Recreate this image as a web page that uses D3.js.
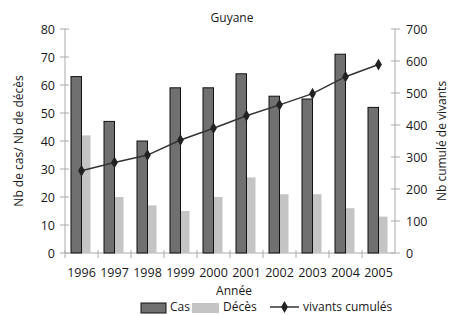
<!DOCTYPE html>
<html>
<head>
<meta charset="utf-8">
<script src="https://cdn.jsdelivr.net/npm/d3@7"></script>
<style>
  body { margin: 0; background: #fff; }
  text { font-family: "Open Sans", sans-serif; fill: #1a1a1a; }
</style>
</head>
<body>
<div id="chart"></div>
<script>
document.addEventListener("DOMContentLoaded", function () {
  const years = ['1996', '1997', '1998', '1999', '2000', '2001', '2002', '2003', '2004', '2005'];
  const cas = [63, 47, 40, 59, 59, 64, 56, 55, 71, 52];
  const deces = [42, 20, 17, 15, 20, 27, 21, 21, 16, 13];
  const vivantsCumules = [257, 283, 306, 353, 390, 429, 463, 498, 551, 589];
  const leftTicks = [0, 10, 20, 30, 40, 50, 60, 70, 80];
  const rightTicks = [0, 100, 200, 300, 400, 500, 600, 700];

  const svg = d3.select('#chart').append('svg')
    .attr('width', 451)
    .attr('height', 315);

  const left = 65, right = 395, top = 29, bottom = 253;
  const axisColor = '#aaa';

  const x = d3.scaleBand().domain(years).range([left, right]);
  const yL = d3.scaleLinear().domain([0, 80]).range([bottom, top]);
  const yR = d3.scaleLinear().domain([0, 700]).range([bottom, top]);
  const barW = 10.5;

  // Title
  svg.append('text')
    .attr('x', 232).attr('y', 22)
    .attr('text-anchor', 'middle')
    .attr('font-size', '12px')
    .text('Guyane');

  // Left axis
  svg.append('line')
    .attr('x1', left).attr('x2', left)
    .attr('y1', top).attr('y2', bottom)
    .attr('stroke', axisColor);
  leftTicks.forEach(t => {
    svg.append('line')
      .attr('x1', left - 5).attr('x2', left + 4)
      .attr('y1', yL(t)).attr('y2', yL(t))
      .attr('stroke', axisColor);
    svg.append('text')
      .attr('x', left - 10).attr('y', yL(t))
      .attr('text-anchor', 'end')
      .attr('dominant-baseline', 'central')
      .attr('font-size', '12.5px')
      .text(t);
  });

  // Right axis
  svg.append('line')
    .attr('x1', right).attr('x2', right)
    .attr('y1', top).attr('y2', bottom)
    .attr('stroke', axisColor);
  rightTicks.forEach(t => {
    svg.append('line')
      .attr('x1', right - 4).attr('x2', right + 5)
      .attr('y1', yR(t)).attr('y2', yR(t))
      .attr('stroke', axisColor);
    svg.append('text')
      .attr('x', right + 11).attr('y', yR(t))
      .attr('dominant-baseline', 'central')
      .attr('font-size', '12.5px')
      .text(t);
  });

  // Bottom axis
  svg.append('line')
    .attr('x1', left).attr('x2', right)
    .attr('y1', bottom).attr('y2', bottom)
    .attr('stroke', axisColor);
  years.forEach((yr, i) => {
    svg.append('line')
      .attr('x1', x(yr)).attr('x2', x(yr))
      .attr('y1', bottom - 3).attr('y2', bottom + 5)
      .attr('stroke', axisColor);
    svg.append('text')
      .attr('x', x(yr) + x.bandwidth() / 2).attr('y', bottom + 24)
      .attr('text-anchor', 'middle')
      .attr('font-size', '12.5px')
      .text(yr);
  });

  // Bars: Cas
  svg.selectAll('.cas').data(cas).enter().append('rect')
    .attr('x', (d, i) => x(years[i]) + x.bandwidth() / 2 - barW)
    .attr('y', d => yL(d))
    .attr('width', barW)
    .attr('height', d => bottom - yL(d))
    .attr('fill', '#707070')
    .attr('stroke', '#111')
    .attr('stroke-width', 1);

  // Bars: Décès
  svg.selectAll('.deces').data(deces).enter().append('rect')
    .attr('x', (d, i) => x(years[i]) + x.bandwidth() / 2 + 0.5)
    .attr('y', d => yL(d))
    .attr('width', barW - 2)
    .attr('height', d => bottom - yL(d))
    .attr('fill', '#c4c4c4');

  // Line: vivants cumulés
  const line = d3.line()
    .x((d, i) => x(years[i]) + x.bandwidth() / 2)
    .y(d => yR(d));
  svg.append('path')
    .datum(vivantsCumules)
    .attr('d', line)
    .attr('fill', 'none')
    .attr('stroke', '#333')
    .attr('stroke-width', 1.5);
  const diamond = d3.symbol().type(d3.symbolDiamond).size(40);
  svg.selectAll('.pt').data(vivantsCumules).enter().append('path')
    .attr('d', diamond)
    .attr('transform', (d, i) => `translate(${x(years[i]) + x.bandwidth() / 2},${yR(d)})`)
    .attr('fill', '#222');

  // Axis titles
  svg.append('text')
    .attr('transform', `translate(18, 141) rotate(-90)`)
    .attr('text-anchor', 'middle')
    .attr('dominant-baseline', 'central')
    .attr('font-size', '12px')
    .text('Nb de cas/ Nb de décès');
  svg.append('text')
    .attr('transform', `translate(441, 141) rotate(-90)`)
    .attr('text-anchor', 'middle')
    .attr('dominant-baseline', 'central')
    .attr('font-size', '12px')
    .text('Nb cumulé de vivants');
  svg.append('text')
    .attr('x', 234).attr('y', 295)
    .attr('text-anchor', 'middle')
    .attr('font-size', '12px')
    .text('Année');

  // Legend
  const ly = 307;
  svg.append('rect')
    .attr('x', 141).attr('y', ly - 4).attr('width', 25).attr('height', 10)
    .attr('fill', '#707070').attr('stroke', '#111');
  svg.append('text').attr('x', 170).attr('y', ly + 4)
    .attr('font-size', '12px').text('Cas');
  svg.append('rect')
    .attr('x', 192).attr('y', ly - 4).attr('width', 27).attr('height', 10)
    .attr('fill', '#c4c4c4');
  svg.append('text').attr('x', 223).attr('y', ly + 4)
    .attr('font-size', '12px').text('Décès');
  svg.append('line')
    .attr('x1', 270).attr('x2', 299).attr('y1', ly).attr('y2', ly)
    .attr('stroke', '#333').attr('stroke-width', 1.5);
  svg.append('path').attr('d', diamond)
    .attr('transform', `translate(284.5,${ly})`).attr('fill', '#222');
  svg.append('text').attr('x', 303).attr('y', ly + 4)
    .attr('font-size', '12px').text('vivants cumulés');
});
</script>
</body>
</html>
